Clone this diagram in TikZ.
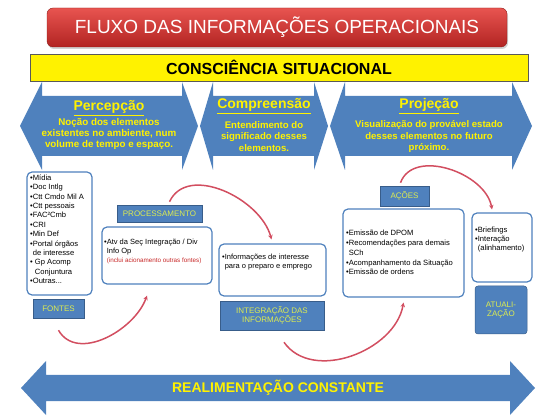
\documentclass[tikz,border=0pt]{standalone}
\usepackage{fontspec}
\setmainfont{Liberation Sans}
\usepackage{xcolor}
\usetikzlibrary{arrows.meta, positioning, calc, shadows}

\definecolor{azul}{RGB}{79,129,189}
\definecolor{azulborda}{RGB}{56,93,138}
\definecolor{lima}{RGB}{222,236,80}
\definecolor{rosa}{RGB}{210,78,96}
\definecolor{vermtopo}{RGB}{232,84,80}
\definecolor{vermbase}{RGB}{178,36,34}
\definecolor{textovermelho}{RGB}{200,40,40}

\begin{document}
\begin{tikzpicture}[x=1pt, y=1pt,
    caixa/.style={draw=azul, line width=1.2pt, rounded corners=5pt, fill=white, inner sep=0pt},
    rotulo/.style={draw=azulborda, line width=0.5pt, fill=azul, text=lima, inner sep=0pt, align=center, font=\fontsize{8}{9}\selectfont},
    lista/.style={anchor=north west, inner sep=0pt, align=left, font=\fontsize{7.6}{9.4}\selectfont},
    titseta/.style={text=yellow, font=\fontsize{14}{16}\selectfont\bfseries, inner sep=0pt},
    txtseta/.style={text=yellow, align=center, inner sep=0pt, font=\fontsize{9.6}{11.5}\selectfont\bfseries},
    ciclo/.style={draw=rosa, line width=1.5pt, -{Stealth[length=4.5pt, width=4.5pt]}}]
  \useasboundingbox (0,0) rectangle (554,-419);

  % cabecalho
  \node[rounded corners=6pt, top color=vermtopo, bottom color=vermbase, draw=vermbase!80!black,
        drop shadow={opacity=0.35, shadow xshift=1pt, shadow yshift=-2pt},
        text=white, font=\fontsize{19}{22}\selectfont, minimum width=460, minimum height=39]
        (titulo) at (277,-27.5) {FLUXO DAS INFORMAÇÕES OPERACIONAIS};
  \node[fill=yellow, draw=gray!70!black, line width=0.6pt, font=\fontsize{16}{18}\selectfont\bfseries,
        minimum width=498, minimum height=27] (consciencia) at (279,-67.5) {CONSCIÊNCIA SITUACIONAL};

  % setas azuis
  \fill[azul] (20,-126) -- (42,-82) -- (42,-96) -- (182,-96) -- (182,-82) -- (198,-126)
    -- (182,-170) -- (182,-156) -- (42,-156) -- (42,-170) -- cycle;
  \fill[azul] (200,-126) -- (213,-82) -- (213,-96) -- (314,-96) -- (314,-82) -- (328,-126)
    -- (314,-170) -- (314,-156) -- (213,-156) -- (213,-170) -- cycle;
  \fill[azul] (330,-126) -- (345,-82) -- (345,-96) -- (512,-96) -- (512,-82) -- (532,-126)
    -- (512,-170) -- (512,-156) -- (345,-156) -- (345,-170) -- cycle;

  \node[titseta] (percepcao) at (109,-108) {\underline{Percepção}};
  \node[txtseta, font=\fontsize{9.8}{10.6}\selectfont\bfseries] (percepcaotxt) at (109,-134)
    {Noção dos elementos\\existentes no ambiente, num\\volume de tempo e espaço.};
  \node[titseta] (compreensao) at (264,-106) {\underline{Compreensão}};
  \node[txtseta] (compreensaotxt) at (264,-136.5)
    {Entendimento do\\significado desses\\elementos.};
  \node[titseta] (projecao) at (429,-106) {\underline{Projeção}};
  \node[txtseta] (projecaotxt) at (429,-136.5)
    {Visualização do provável estado\\desses elementos no futuro\\próximo.};

  % caixas
  \node[caixa, minimum width=65, minimum height=123] (listafontes) at (59.5,-233.5) {};
  \node[lista] at (30,-174.5) {•Mídia\\•Doc Intlg\\•Ctt Cmdo Mil A\\•Ctt pessoais\\•FAC²Cmb\\•CRI\\•Min Def\\
    •Portal órgãos\\\hphantom{•}de interesse\\• Gp Acomp\\\hphantom{• }Conjuntura\\•Outras...};
  \node[rotulo, minimum width=51, minimum height=19] (fontes) at (58.5,-308.5) {FONTES};

  \node[rotulo, minimum width=85, minimum height=17] (processamento) at (159.5,-213.5) {PROCESSAMENTO};
  \node[caixa, minimum width=110, minimum height=57] (atividade) at (157,-255.5) {};
  \node[lista, font=\fontsize{7.5}{9}\selectfont] at (104,-239)
    {•Atv da Seç Integração / Div\\\hphantom{•}Info Op\\
     \hphantom{•}{\color{textovermelho}\fontsize{6.3}{7.5}\selectfont(inclui acionamento outras fontes)}};

  \node[caixa, minimum width=107, minimum height=52] (informacoes) at (272.5,-270) {};
  \node[lista, font=\fontsize{7.5}{9}\selectfont] at (222,-254)
    {•Informações de interesse\\\hphantom{•}para o preparo e emprego};
  \node[rotulo, minimum width=104, minimum height=29] (integracao) at (272,-315.5)
    {INTEGRAÇÃO DAS\\INFORMAÇÕES};

  \node[rotulo, minimum width=49, minimum height=20] (acoes) at (404.5,-196) {AÇÕES};
  \node[caixa, minimum width=121, minimum height=88] (medidas) at (403.5,-253) {};
  \node[lista, font=\fontsize{7.6}{9.8}\selectfont] at (346,-230)
    {•Emissão de DPOM\\•Recomendações para demais\\\hphantom{•}SCh\\•Acompanhamento da Situação\\•Emissão de ordens};

  \node[caixa, minimum width=60, minimum height=69] (briefings) at (502,-247.5) {};
  \node[lista, font=\fontsize{7.6}{9}\selectfont] at (475,-227)
    {•Briefings\\•Interação\\\hphantom{•}(alinhamento)};
  \node[rotulo, minimum width=52, minimum height=48, rounded corners=3pt] (atualizacao) at (501,-310)
    {ATUALI-\\ZAÇÃO};

  % ciclo
  \draw[ciclo] ([yshift=-12]fontes.south) to[out=-60, in=-110] ([shift={(-10,-11)}]atividade.south);
  \draw[ciclo] ([shift={(10,3)}]processamento.north) to[out=65, in=105] ([shift={(-1,4)}]informacoes.north);
  \draw[ciclo] ([shift={(12,-12)}]integracao.south) to[out=-55, in=-100] ([yshift=-5]medidas.south);
  \draw[ciclo] ([shift={(-4,3)}]acoes.north) to[out=70, in=100] ([shift={(-10,3)}]briefings.north);

  % realimentacao
  \fill[azul] (21,-388) -- (46,-361) -- (46,-375) -- (510,-375) -- (510,-361) -- (535,-388)
    -- (510,-415) -- (510,-401) -- (46,-401) -- (46,-415) -- cycle;
  \node[titseta] (realimentacao) at (278,-388) {REALIMENTAÇÃO CONSTANTE};
\end{tikzpicture}
\end{document}
